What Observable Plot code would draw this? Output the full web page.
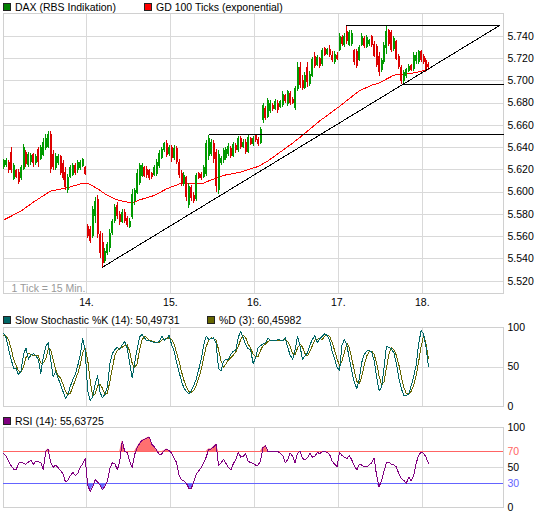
<!DOCTYPE html>
<html><head><meta charset="utf-8">
<script src="https://cdn.jsdelivr.net/npm/d3@7"></script>
<script src="https://cdn.jsdelivr.net/npm/@observablehq/plot@0.6"></script>
<style>
body{margin:0;background:#fff;}
#wrap{position:relative;width:545px;height:516px;overflow:hidden;font-family:"Liberation Sans",Arial,sans-serif;font-size:10.5px;color:#000;background:#fff;}
#wrap svg{position:absolute;left:0;}
.leg{position:absolute;display:flex;align-items:center;white-space:nowrap;height:14px;z-index:2;}
.sw{display:inline-block;width:6px;height:6px;border:1px solid #222;margin-right:4px;}
</style></head><body><div id="wrap"></div>
<script>
// ---------- data ----------
const dayLabels = ["14.", "15.", "16.", "17.", "18."];
const barsPerDay = 34;
const priceTicks = [5520,5540,5560,5580,5600,5620,5640,5660,5680,5700,5720,5740];
const oscTicks = [0, 50, 100];
const rsiBands = [70, 30];

const open = [5622,5624,5627,5636,5611,5619,5618,5612,5620,5636,5624,5627,5634,5626,5638,5629,5633,5639,5640,5652,5634,5621,5626,5632,5626,5618,5601,5613,5615,5624,5619,5621,5623,5622,
5569,5566,5560,5578,5593,5562,5555,5538,5545,5549,5563,5574,5588,5580,5573,5582,5576,5568,5577,5592,5599,5608,5614,5622,5620,5619,5617,5615,5616,5623,5630,5637,5644,5634,
5640,5630,5639,5627,5617,5607,5613,5588,5604,5597,5593,5617,5616,5613,5616,5632,5634,5644,5636,5601,5626,5628,5630,5634,5639,5632,5642,5637,5648,5640,5645,5636,5648,5643,
5651,5647,5644,5664,5675,5667,5672,5678,5674,5680,5676,5678,5687,5679,5689,5683,5675,5692,5712,5700,5693,5712,5697,5704,5722,5714,5720,5715,5729,5724,5728,5723,5716,5723,
5727,5739,5732,5744,5732,5733,5727,5726,5718,5732,5738,5730,5733,5740,5733,5731,5722,5709,5716,5729,5745,5743,5728,5735,5722,5712,5699,5704,5708,5714,5710,5717,5716,5726,
5722,5718,5715];
const high = [5629,5630,5628,5640,5626,5620,5620,5624,5643,5637,5636,5635,5635,5634,5640,5642,5648,5652,5654,5654,5637,5635,5634,5633,5628,5622,5616,5624,5626,5626,5628,5628,5630,5623,
5571,5569,5587,5595,5597,5565,5563,5549,5555,5566,5575,5589,5591,5583,5584,5584,5578,5576,5602,5603,5620,5626,5626,5623,5623,5620,5618,5624,5629,5637,5640,5645,5646,5642,
5642,5642,5641,5629,5619,5618,5614,5608,5606,5600,5617,5618,5618,5624,5646,5651,5647,5646,5638,5637,5632,5639,5640,5644,5641,5645,5644,5650,5650,5647,5647,5651,5649,5650,
5652,5649,5658,5680,5677,5684,5682,5680,5683,5682,5682,5690,5688,5691,5690,5685,5695,5716,5716,5705,5707,5716,5708,5721,5725,5723,5721,5729,5730,5729,5732,5726,5726,5725,
5742,5741,5742,5749,5745,5745,5728,5728,5732,5742,5740,5741,5737,5741,5735,5733,5725,5720,5734,5749,5746,5745,5740,5736,5724,5714,5709,5711,5715,5715,5725,5725,5727,5727,
5724,5720,5716];
const low = [5620,5622,5617,5617,5610,5612,5607,5610,5619,5622,5622,5624,5622,5624,5622,5628,5632,5637,5639,5617,5619,5619,5624,5615,5610,5601,5599,5612,5614,5615,5617,5619,5622,5615,
5558,5554,5558,5572,5558,5540,5532,5536,5543,5546,5561,5572,5575,5570,5572,5572,5568,5567,5575,5588,5598,5606,5613,5613,5612,5610,5611,5614,5614,5621,5629,5636,5631,5632,
5627,5628,5625,5612,5605,5605,5592,5585,5592,5590,5592,5611,5610,5612,5614,5628,5632,5626,5600,5598,5624,5626,5628,5632,5630,5631,5635,5636,5638,5639,5634,5635,5642,5641,
5645,5641,5643,5662,5664,5666,5671,5672,5673,5671,5675,5676,5680,5677,5678,5679,5673,5690,5693,5691,5692,5694,5695,5703,5711,5713,5711,5713,5722,5723,5721,5716,5715,5718,
5726,5731,5730,5733,5731,5731,5714,5711,5717,5731,5729,5729,5731,5730,5721,5712,5704,5707,5715,5724,5731,5725,5726,5718,5710,5697,5697,5702,5707,5708,5708,5715,5715,5716,
5715,5707,5709];
const close = [5628,5628,5619,5619,5624,5613,5609,5622,5640,5625,5634,5633,5626,5632,5627,5640,5645,5648,5652,5620,5622,5632,5632,5617,5612,5604,5613,5622,5624,5617,5627,5627,5629,5616,
5560,5556,5584,5592,5562,5545,5536,5547,5553,5563,5574,5586,5578,5573,5582,5574,5570,5574,5598,5601,5617,5624,5624,5614,5615,5612,5613,5622,5627,5635,5638,5644,5633,5640,
5630,5639,5627,5615,5607,5615,5595,5605,5594,5592,5615,5612,5612,5622,5644,5648,5645,5629,5605,5634,5630,5637,5638,5641,5632,5643,5637,5648,5640,5645,5636,5649,5643,5648,
5646,5643,5656,5678,5666,5682,5680,5674,5681,5673,5681,5688,5681,5690,5680,5680,5693,5712,5696,5693,5705,5698,5706,5719,5713,5721,5713,5727,5723,5728,5723,5718,5724,5719,
5740,5733,5740,5735,5743,5742,5716,5713,5730,5740,5731,5739,5736,5732,5722,5714,5707,5718,5732,5744,5733,5727,5738,5719,5712,5699,5707,5710,5713,5709,5723,5723,5726,5718,
5716,5709,5712];

// exponential moving average (GD 100), read at selected ticks: [tick, value]
const emaPoints = [[0,5575],[7,5583],[12,5591],[19,5601],[26,5604],[32,5608],[34,5608],[38,5603],[42,5597],[46,5593],[50,5591],[53,5591],[55,5593],[61,5597],[66,5603],[72,5608],[81,5608],[83,5610],[89,5615],[96,5618],[103,5623],[107,5628],[112,5636],[117,5644],[121,5651],[128,5664],[136,5677],[144,5691],[149,5696],[152,5698],[158,5705],[162,5706],[166,5707],[172,5710]];

// drawn trend lines [tick1, price1, tick2, price2]
const trendLines = [
  [39.8, 5532.3, 200.8, 5749.6],
  [138.6, 5749.6, 200.8, 5749.6],
  [83, 5651.4, 202.4, 5651.4],
  [161.3, 5696.6, 202.4, 5696.6]
];

const stochK = [92,87,72,60,48,48,40,45,66,74,60,65,67,64,60,42,62,76,81,60,38,44,36,28,19,10,15,26,34,41,52,66,86,70,20,8,12,28,39,18,11,16,25,55,67,72,75,72,78,82,74,55,36,55,72,88,91,87,83,83,82,81,81,82,89,84,86,90,78,70,56,44,32,23,19,16,20,27,35,47,60,78,89,85,86,87,80,48,45,57,60,60,66,70,71,88,95,87,78,73,72,54,62,74,77,79,81,86,84,83,83,85,84,83,87,75,65,60,72,89,76,60,64,68,78,85,90,81,86,89,92,90,84,70,60,50,45,78,85,77,60,44,30,23,35,56,66,70,71,69,58,38,20,24,48,76,75,73,68,55,36,23,14,14,16,26,38,52,78,96,92,76,50.5];
const stochD = [90,89,84,73,60,52,45,44,50,62,67,66,64,65,64,55,55,60,73,72,60,47,39,36,28,19,15,17,25,34,42,53,68,74,59,33,13,16,26,28,23,15,17,32,49,65,71,73,75,77,78,70,55,49,54,72,84,89,87,84,83,82,81,81,84,85,86,87,85,79,68,57,44,33,25,19,18,21,27,36,47,62,76,84,87,86,84,72,58,50,54,59,62,65,69,76,85,90,87,79,74,66,63,63,71,77,79,82,84,84,83,84,84,84,85,82,76,67,66,74,79,75,67,64,70,77,84,85,86,85,89,90,89,81,71,60,52,58,69,80,74,60,45,32,29,38,52,64,69,70,66,55,39,27,31,49,66,75,72,65,53,38,24,17,15,19,27,39,56,75,89,80,60.5];
const rsi = [67,64,58,52,48,47,55,57,55,54,57,59,54,58,57,56,47,70,73,56,50,53,50,46,42,32,34,40,44,40,43,50,55,61,28,20,26,35,32,28,22,27,33,49,56,55,47,58,83,70,69,58,50,66,75,80,84,85,87,88,79,76,71,66,67,71,73,71,68,62,56,40,35,33,30,24,24,33,42,46,50,56,63,73,73,76,79,52,56,60,55,50,47,55,60,69,63,64,67,58,56,55,53,53,58,75,77,70,70,70,70,70,68,65,56,60,68,64,56,68,70,61,60,62,68,63,64,69,67,70,70,69,66,58,54,51,69,65,63,61,65,59,52,47,54,53,51,51,53,56,62,40,26,33,45,56,57,54,53,51,42,36,34,30,38,33,40,55,65,69,68,63,55.6];

const legendMain = [["DAX (RBS Indikation)", "#008000"], ["GD 100 Ticks (exponential)", "#ff0000"]];
const legendStoch = [["Slow Stochastic %K (14): 50,49731", "#006666"], ["%D (3): 60,45982", "#666600"]];
const legendRsi = [["RSI (14): 55,63725", "#800080"]];

// ---------- setup ----------
const de = d3.formatLocale({decimal: ",", thousands: ".", grouping: [3], currency: ["", ""]});
const fmtPrice = de.format(",d");
const dayStarts = dayLabels.map((d, k) => (k + 1) * barsPerDay - 0.5);
const xDomain = [-0.1, 202.4];
const FONT = "'Liberation Sans', Arial, sans-serif";
const GRID = "#d9d9d9";
const UP = "#009a00", DOWN = "#dd0000";
const HI = "#ff6464", LO = "#6464ff";
const CRISP = {shapeRendering: "crispEdges"};

const bars = close.map((c, i) => ({i, o: open[i], h: high[i], l: low[i], c, col: c >= open[i] ? UP : DOWN}));
const emaData = emaPoints.map(([i, v]) => ({i, v}));
const trends = trendLines.map(([x1, y1, x2, y2]) => ({x1, y1, x2, y2}));
const osc = stochK.map((k, i) => ({i, k, d: stochD[i], r: rsi[i]}));
const bandData = rsiBands.map(v => ({v, col: v > 50 ? HI : LO}));

const common = {
  width: 545, marginLeft: 3, marginRight: 42,
  style: {fontFamily: FONT, fontSize: "10.5px", color: "#000", background: "transparent", overflow: "visible"},
  x: {domain: xDomain, axis: null}
};
const rightAxis = (ticks, opts = {}) => Plot.axisY(ticks, {anchor: "right", tickSize: 0, tickPadding: 4, textAnchor: "start", fill: "#000", label: null, ...opts});

const wrap = document.getElementById("wrap");

const main = Plot.plot({
  ...common,
  height: 312, marginTop: 13, marginBottom: 19,
  y: {domain: [5508.95, 5760.4], axis: null, label: null},
  marks: [
    Plot.gridY(priceTicks, {stroke: GRID, strokeOpacity: 1, ...CRISP}),
    Plot.gridX(dayStarts, {stroke: GRID, strokeOpacity: 1, ...CRISP}),
    Plot.frame({stroke: "#d0d0d0", ...CRISP}),
    Plot.text(["1 Tick = 15 Min."], {frameAnchor: "bottom-left", dx: 8, dy: -2, fill: "#999", textAnchor: "start"}),
    Plot.line(emaData, {x: "i", y: "v", stroke: "#ff0000", strokeWidth: 1, ...CRISP}),
    Plot.ruleX(bars, {x: "i", y1: "l", y2: "h", stroke: "col", strokeWidth: 1, ...CRISP}),
    Plot.ruleX(bars, {x: "i", y1: "o", y2: "c", stroke: "col", strokeWidth: 2, ...CRISP}),
    Plot.link(trends, {x1: "x1", y1: "y1", x2: "x2", y2: "y2", stroke: "#000", strokeWidth: 1, ...CRISP}),
    rightAxis(priceTicks, {tickFormat: fmtPrice}),
    Plot.axisX(dayStarts, {anchor: "bottom", tickSize: 0, tickPadding: 5, tickFormat: d => dayLabels[dayStarts.indexOf(d)], fill: "#000", label: null})
  ]
});
main.style.top = "0px";
wrap.appendChild(main);

const stoch = Plot.plot({
  ...common,
  height: 104, marginTop: 15, marginBottom: 10,
  y: {domain: [0, 100], axis: null, label: null},
  marks: [
    Plot.gridX(dayStarts, {stroke: GRID, strokeOpacity: 1, ...CRISP}),
    Plot.gridY([50], {stroke: GRID, strokeOpacity: 1, ...CRISP}),
    Plot.frame({stroke: "#d0d0d0", ...CRISP}),
    Plot.line(osc, {x: "i", y: "d", stroke: "#666600", strokeWidth: 1, ...CRISP}),
    Plot.line(osc, {x: "i", y: "k", stroke: "#006666", strokeWidth: 1, ...CRISP}),
    rightAxis(oscTicks)
  ]
});
stoch.style.top = "312px";
wrap.appendChild(stoch);

const rsiPlot = Plot.plot({
  ...common,
  height: 100, marginTop: 11, marginBottom: 9,
  y: {domain: [0, 100], axis: null, label: null},
  color: {type: "identity"},
  marks: [
    Plot.gridX(dayStarts, {stroke: GRID, strokeOpacity: 1, ...CRISP}),
    Plot.gridY([50], {stroke: GRID, strokeOpacity: 1, ...CRISP}),
    Plot.frame({stroke: "#d0d0d0", ...CRISP}),
    Plot.areaY(osc, {x: "i", y1: 70, y2: d => Math.max(d.r, 70), fill: "#ff7070", stroke: "none"}),
    Plot.areaY(osc, {x: "i", y1: d => Math.min(d.r, 30), y2: 30, fill: "#6c6cff", stroke: "none"}),
    Plot.ruleY(bandData, {y: "v", stroke: "col", strokeWidth: 1, strokeOpacity: 1, ...CRISP}),
    Plot.line(osc, {x: "i", y: "r", stroke: "#800080", strokeWidth: 1, ...CRISP}),
    rightAxis(oscTicks),
    Plot.axisY(bandData.map(d => d.v), {anchor: "right", tickSize: 0, tickPadding: 4, textAnchor: "start", label: null, fill: d => (d > 50 ? HI : LO)})
  ]
});
rsiPlot.style.top = "416px";
wrap.appendChild(rsiPlot);

// ---------- legends ----------
function legend(items, lefts, centerY) {
  items.forEach(([label, color], k) => {
    const div = document.createElement("div");
    div.className = "leg";
    div.style.left = lefts[k] + "px";
    div.style.top = (centerY - 7) + "px";
    const sw = document.createElement("span");
    sw.className = "sw";
    sw.style.background = color;
    div.appendChild(sw);
    div.appendChild(document.createTextNode(label));
    wrap.appendChild(div);
  });
}
legend(legendMain, [3, 144], 7);
legend(legendStoch, [3, 207], 319.5);
legend(legendRsi, [3], 420.5);
</script></body></html>
